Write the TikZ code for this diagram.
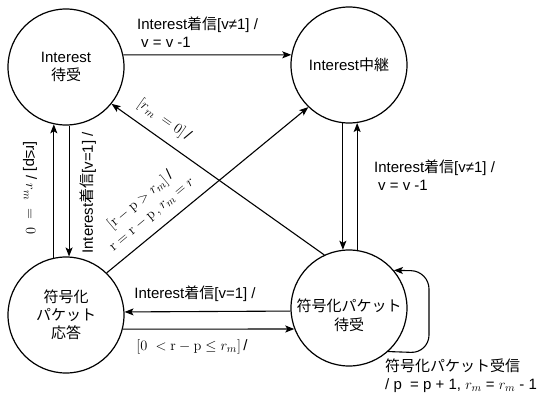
\documentclass[tikz,border=0pt]{standalone}
\usepackage[no-math]{fontspec}
\setmainfont{Liberation Sans}
\newfontfamily\jpfont{Noto Sans CJK JP}
\newcommand{\J}[1]{{\jpfont #1}}
\usetikzlibrary{arrows.meta,calc}
\begin{document}
\begin{tikzpicture}[x=1pt,y=-1pt,
  state/.style={circle,draw,line width=1.2pt,minimum size=116pt,inner sep=0pt,align=center,font=\fontsize{15}{18}\selectfont},
  lbl/.style={font=\fontsize{15}{18}\selectfont,inner sep=0pt},
  edge/.style={line width=1.1pt,-{Stealth[length=9pt,width=7pt,inset=2pt]}},
  plain/.style={line width=1.1pt}]
\useasboundingbox (0,0) rectangle (541,399);
% states
\node[state] (A) at (66,67) {Interest\\\J{待受}};
\node[state] (B) at (349,65) {Interest\J{中継}};
\node[state] (C) at (66,315) {\J{符号化}\\\J{パケット}\\\J{応答}};
\node[state] (D) at (349,308) {};
\node[lbl,align=center,font=\fontsize{15}{19}\selectfont] (Dt) at (349,315) {\J{符号化パケット}\\\J{待受}};
% connectors
\draw[edge] (A.12) -- (B.170);
\draw[edge] (C.102) -- (A.258);
\draw[edge] (A.273) -- (C.87);
\draw[edge] (B.264) -- (D.96);
\draw[edge] (D.82) -- (B.278);
\draw[edge] (D.115) -- (A.-39);
\draw[edge] (C.46) -- (B.226);
\draw[edge] (D.183) -- (C.3);
\draw[edge] (C.-14) -- (D.201);
\coordinate (L1) at (429,353);
\coordinate (L2) at (429,271);
\draw[edge,rounded corners=18pt] (D.-48) -- (L1) -- (L2) -- (D.40);
% labels
\node[lbl,anchor=west,align=left] (t1) at (137,32) {Interest\J{着信}[v≠1] /\\\hspace{4pt}v = v -1};
\node[lbl,anchor=west,align=left] (t2) at (374,175) {Interest\J{着信}[v≠1] /\\\hspace{4pt}v = v -1};
\node[lbl] (t3) at (195,294) {Interest\J{着信}[v=1] /};
\node[lbl] (t4) at (192,347) {$[0\ < \mathrm{r} - \mathrm{p} \le r_m]$\,/};
\node[lbl,anchor=west,align=left] (t5) at (385,376) {\J{符号化パケット受信}\\/ p\ \ = p + 1, $r_m$ = $r_m$ - 1};
\node[lbl,rotate=-90] (t6) at (30,188) {[r≤p] / $r_m\ =\ 0$};
\node[lbl,rotate=90] (t7) at (88,193) {Interest\J{着信}[v=1] /};
\node[lbl,rotate=-35] (t8) at (164,120) {$[r_m\ = 0]$\,/};
\node[lbl,rotate=40,align=center] (t9) at (146,207) {$[\mathrm{r} - \mathrm{p} > r_m]$\,/\\$\mathrm{r} = \mathrm{r} - \mathrm{p}\,, r_m = r$};
\end{tikzpicture}
\end{document}
